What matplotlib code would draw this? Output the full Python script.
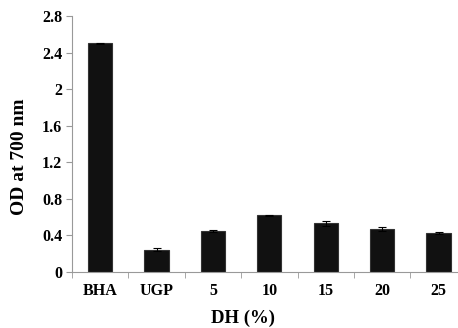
import matplotlib.pyplot as plt
import numpy as np

# data
categories = ['BHA', 'UGP', '5', '10', '15', '20', '25']
od_values = [2.50, 0.245, 0.45, 0.62, 0.53, 0.47, 0.425]
od_errors = [0.005, 0.02, 0.01, 0.005, 0.028, 0.018, 0.012]

plt.rcParams['font.family'] = ['Liberation Serif', 'DejaVu Serif']
plt.rcParams['font.weight'] = 'bold'

fig = plt.figure(figsize=(4.58, 3.28), dpi=100)
ax = fig.add_axes([0.157, 0.171, 0.862, 0.780])

x = np.arange(len(categories))
ax.bar(x, od_values, width=0.43, color='#111111', edgecolor='#333333', linewidth=0.8,
       yerr=od_errors, capsize=3, error_kw={'ecolor': 'black', 'elinewidth': 0.8, 'capthick': 0.8})

ax.set_xlim(-0.5, len(categories) - 0.5)
ax.set_ylim(0, 2.8)
ax.set_yticks([0, 0.4, 0.8, 1.2, 1.6, 2.0, 2.4, 2.8])
ax.set_yticklabels(['0', '0.4', '0.8', '1.2', '1.6', '2', '2.4', '2.8'])

# category labels at centres, tick marks between categories
ax.set_xticks(x)
ax.set_xticklabels(categories)
ax.tick_params(axis='x', length=0, pad=8, labelsize=11.5)
ax.set_xticks(np.arange(-0.5, len(categories), 1), minor=True)
ax.tick_params(axis='x', which='minor', length=4, color='#999999')
ax.tick_params(axis='y', length=4, color='#999999', labelsize=11.5, pad=3)

for s in ['top', 'right']:
    ax.spines[s].set_visible(False)
for s in ['left', 'bottom']:
    ax.spines[s].set_color('#999999')
    ax.spines[s].set_linewidth(0.8)

ax.set_xlabel('DH (%)', fontsize=13.5, fontweight='bold')
ax.xaxis.set_label_coords((243 - 72) / 395, -0.146)
ax.set_ylabel('OD at 700 nm', fontsize=14, fontweight='bold')
ax.yaxis.set_label_coords(-0.11, 0.449)

plt.savefig('out.png', dpi=100)
